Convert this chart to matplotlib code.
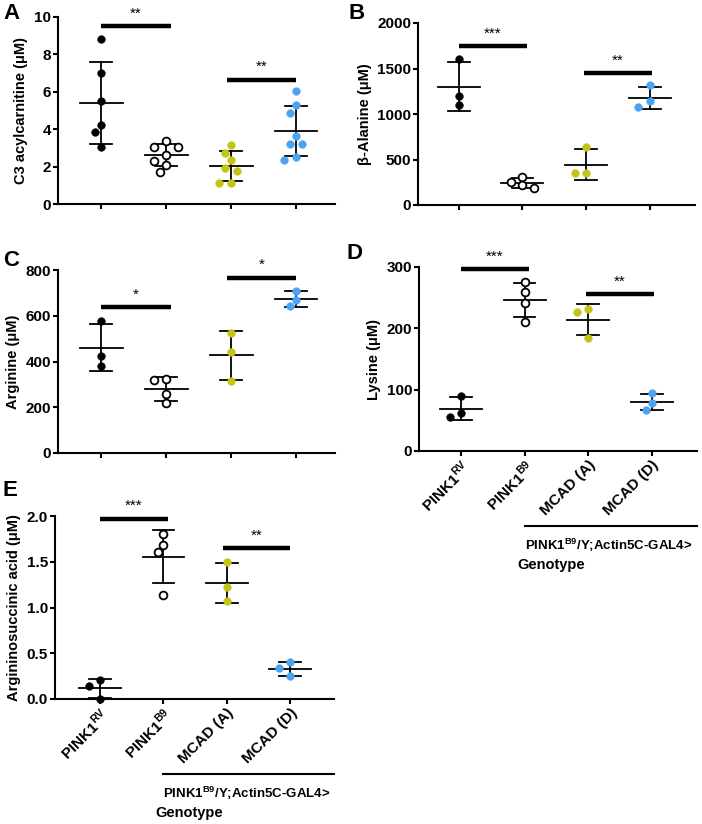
import numpy as np
import matplotlib.pyplot as plt

plt.rcParams['font.family'] = ['Liberation Sans', 'DejaVu Sans']
plt.rcParams['font.weight'] = 'bold'
plt.rcParams['axes.labelweight'] = 'bold'
plt.rcParams['mathtext.fontset'] = 'custom'
plt.rcParams['mathtext.rm'] = 'Liberation Sans'

# groups and colours
groups = ['PINK1$^{\\mathrm{RV}}$', 'PINK1$^{\\mathrm{B9}}$', 'MCAD (A)', 'MCAD (D)']
face = ['black', 'white', '#c4c416', '#4ca4f0']

# values (uM)
c3 = [[8.8, 7.0, 5.5, 4.2, 3.85, 3.05],
      [3.39, 3.07, 3.07, 2.62, 2.3, 2.09, 1.73],
      [3.16, 2.75, 2.36, 1.95, 1.77, 1.1, 1.1],
      [6.02, 5.3, 4.86, 3.64, 3.2, 3.2, 2.54, 2.36]]
ala = [[1609, 1199, 1097],
       [311, 255, 215, 185],
       [640, 347, 347],
       [1316, 1144, 1079]]
arg = [[578, 424, 380],
       [325, 320, 259, 218],
       [525, 442, 313],
       [708, 669, 642]]
lys = [[90, 62, 55],
       [275, 260, 241, 211],
       [231, 226, 185],
       [94, 79, 67]]
asa = [[0.207, 0.145, 0.0],
       [1.8, 1.68, 1.61, 1.135],
       [1.499, 1.226, 1.07],
       [0.40, 0.335, 0.251]]

# significance bars: (x from, x to, height, label)
c3_sig = [(0, 1.07, 9.5, '**'), (1.93, 3.0, 6.64, '**')]
ala_sig = [(0, 1.07, 1744, '***'), (1.96, 3.03, 1452, '**')]
arg_sig = [(0, 1.07, 638, '*'), (1.94, 3.0, 766, '*')]
lys_sig = [(0, 1.07, 297, '***'), (1.96, 3.03, 256, '**')]
asa_sig = [(0, 1.07, 1.97, '***'), (1.94, 3.0, 1.645, '**')]

W, H = 702, 824
fig = plt.figure(figsize=(W / 100, H / 100), dpi=100)


def rect(l, r, t, b):
    return [l / W, 1 - b / H, (r - l) / W, (b - t) / H]


def swarm(ax, xc, vals, size_px, step):
    # greedy beeswarm in pixel space
    placed, xs = [], []
    cands = [0]
    for i in range(1, 6):
        cands += [-i * step, i * step]
    for v in vals:
        for c in cands:
            p = ax.transData.transform((xc + c, v))
            if all(np.hypot(*(p - q)) >= size_px for q in placed):
                break
        placed.append(p)
        xs.append(xc + c)
    return xs


def panel(r, data, sig, ylim, yticks, ylabel, xlim, fmt=None, labels=False):
    ax = fig.add_axes(rect(*r))
    ax.set_xlim(*xlim)
    ax.set_ylim(*ylim)
    for s in ['top', 'right']:
        ax.spines[s].set_visible(False)
    for s in ['left', 'bottom']:
        ax.spines[s].set_linewidth(1.5)
    ax.tick_params(width=1.5, length=3.5, labelsize=11, pad=1.5)
    ax.set_yticks(yticks)
    if fmt:
        ax.set_yticklabels([fmt % t for t in yticks])
    ax.set_xticks(range(4))
    if labels:
        ax.set_xticklabels(groups, rotation=45, ha='right', rotation_mode='anchor')
    else:
        ax.set_xticklabels([])
    ax.set_ylabel(ylabel, fontsize=10.5, labelpad=4)

    for i, vals in enumerate(data):
        m = np.mean(vals)
        sd = np.std(vals, ddof=1)
        ax.plot([i, i], [m - sd, m + sd], color='black', lw=1.3, zorder=2)
        ax.plot([i - 0.33, i + 0.33], [m, m], color='black', lw=1.3, zorder=2)
        for y in (m - sd, m + sd):
            ax.plot([i - 0.17, i + 0.17], [y, y], color='black', lw=1.3, zorder=2)
        xs = swarm(ax, i, vals, 8.5, 0.09)
        ax.plot(xs, vals, 'o', ms=5.6, mfc=face[i], mec='black' if i < 2 else face[i],
                mew=1.3 if i == 1 else 0.3, zorder=3, clip_on=False)

    for x0, x1, y, lab in sig:
        ax.plot([x0, x1], [y, y], color='black', lw=3.2, solid_capstyle='butt', clip_on=False)
        ax.annotate(lab, ((x0 + x1) / 2, y), xytext=(0, 4), textcoords='offset points',
                    ha='center', va='bottom', fontsize=11, fontweight='normal')
    return ax


axA = panel((58, 335, 17, 204), c3, c3_sig, (0, 10), range(0, 11, 2),
            'C3 acylcarnitine (\u03bcM)', (-0.665, 3.6))
axB = panel((418, 695, 23, 205), ala, ala_sig, (0, 2000), range(0, 2001, 500),
            '\u03b2-Alanine (\u03bcM)', (-0.64, 3.71))
axC = panel((58, 335, 270, 453), arg, arg_sig, (0, 800), range(0, 801, 200),
            'Arginine (\u03bcM)', (-0.665, 3.6))
axD = panel((419, 697, 267, 451), lys, lys_sig, (0, 300), range(0, 301, 100),
            'Lysine (\u03bcM)', (-0.66, 3.71), labels=True)
axE = panel((55, 334, 516, 699), asa, asa_sig, (0, 2.0), [0, 0.5, 1.0, 1.5, 2.0],
            'Argininosuccinic acid (\u03bcM)', (-0.71, 3.69), fmt='%.1f', labels=True)

# genotype annotation under D and E
for ax in (axD, axE):
    h = ax.get_position().height * H
    tr = ax.get_xaxis_transform()
    yl = -(75 / h)
    ax.plot([1, ax.get_xlim()[1]], [yl, yl], color='black', lw=1.5, transform=tr, clip_on=False)
    ax.text(1, -(94 / h), 'PINK1$^{\\mathrm{B9}}$/Y;Actin5C-GAL4>', transform=tr,
            ha='left', va='center', fontsize=9.5)
    ax.text(0.88, -(114 / h), 'Genotype', transform=tr, ha='left', va='center', fontsize=10.5)

# panel letters
for lab, x, y in [('A', 3, 3), ('B', 348, 3), ('C', 3, 250), ('D', 346, 243), ('E', 2, 480)]:
    fig.text(x / W, 1 - y / H, lab, fontsize=16, fontweight='bold', ha='left', va='top')

fig.savefig('out.png', dpi=100)
